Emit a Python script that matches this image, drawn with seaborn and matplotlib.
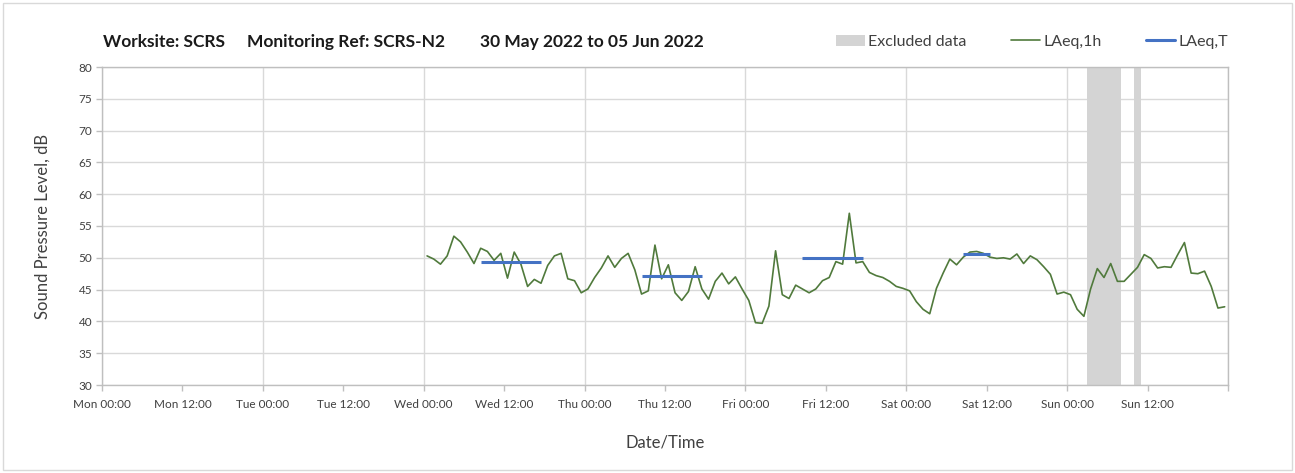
import pandas as pd
import numpy as np
import matplotlib
matplotlib.use("Agg")
import matplotlib.pyplot as plt
import matplotlib.dates as mdates
from matplotlib.patches import Patch, Rectangle
from matplotlib.lines import Line2D
import seaborn as sns

# hourly LAeq,1h values, Wed 01 Jun 2022 00:30 -> Sun 05 Jun 2022 23:30
wed = [50.3, 49.8, 49.0, 50.3, 53.4, 52.5, 50.9, 49.1, 51.5, 51.0, 49.6, 50.7,
       46.8, 50.9, 49.0, 45.5, 46.6, 46.0, 48.8, 50.3, 50.7, 46.7, 46.4, 44.5]
thu = [45.1, 46.9, 48.4, 50.3, 48.5, 49.9, 50.7, 48.1, 44.3, 44.8, 52.0, 46.7,
       48.9, 44.5, 43.3, 44.7, 48.6, 45.1, 43.5, 46.3, 47.6, 45.9, 47.0, 45.1]
fri = [43.3, 39.8, 39.7, 42.4, 51.1, 44.2, 43.6, 45.7, 45.1, 44.5, 45.1, 46.4,
       46.9, 49.4, 49.0, 57.0, 49.2, 49.4, 47.7, 47.2, 46.9, 46.3, 45.5, 45.2]
sat = [44.8, 43.1, 41.9, 41.2, 45.2, 47.6, 49.8, 48.9, 50.1, 50.9, 51.0, 50.7,
       50.1, 49.9, 50.0, 49.8, 50.6, 49.1, 50.3, 49.7, 48.6, 47.4, 44.3, 44.6]
sun = [44.2, 41.9, 40.8, 45.1, 48.3, 46.9, 49.1, 46.3, 46.3, 47.4, 48.5, 50.5,
       49.9, 48.4, 48.6, 48.5, 50.5, 52.4, 47.6, 47.5, 47.9, 45.5, 42.1, 42.3]
laeq_1h = wed + thu + fri + sat + sun
times = pd.date_range("2022-06-01 00:30", periods=len(laeq_1h), freq="h")

# LAeq,T over each assessment period
period_start = pd.to_datetime(["2022-06-01 08:30", "2022-06-02 08:30",
                               "2022-06-03 08:30", "2022-06-04 08:30"])
period_end = pd.to_datetime(["2022-06-01 17:30", "2022-06-02 17:30",
                             "2022-06-03 17:30", "2022-06-04 12:30"])
laeq_T = [49.3, 47.2, 50.0, 50.6]

# excluded data windows
excl_start = pd.to_datetime(["2022-06-05 03:00", "2022-06-05 10:00"])
excl_end = pd.to_datetime(["2022-06-05 08:00", "2022-06-05 11:00"])

week_start = pd.Timestamp("2022-05-30 00:00")
week_end = pd.Timestamp("2022-06-06 00:00")

title_parts = ["Worksite: SCRS", "Monitoring Ref: SCRS-N2", "30 May 2022 to 05 Jun 2022"]

df = pd.DataFrame({"time": times, "LAeq,1h": laeq_1h})

sns.set_theme(style="white")
plt.rcParams['font.family'] = ['Lato', 'DejaVu Sans']

green = "#507a3c"
blue = "#4472c4"
grey = "#d4d4d4"
txt = "#404040"

fig = plt.figure(figsize=(12.95, 4.73), dpi=100)
ax = fig.add_axes([102 / 1295, 1 - 385 / 473, (1228 - 102) / 1295, (385 - 67) / 473])

for s, e in zip(excl_start, excl_end):
    ax.axvspan(s, e, color=grey, lw=0, zorder=1)

sns.lineplot(data=df, x="time", y="LAeq,1h", ax=ax, color=green, lw=1.2, zorder=3)
ax.hlines(laeq_T, period_start, period_end, color=blue, lw=2.2, zorder=4)

ax.set_xlim(week_start, week_end)
ax.set_ylim(30, 80)
ax.set_yticks(np.arange(30, 81, 5))

ax.xaxis.set_major_locator(mdates.DayLocator())
ax.xaxis.set_minor_locator(mdates.HourLocator(byhour=[12]))


def fmt(x, pos=None):
    d = mdates.num2date(x).replace(tzinfo=None)
    if d >= week_end:
        return ""
    return d.strftime("%a %H:%M")


ax.xaxis.set_major_formatter(plt.FuncFormatter(fmt))
ax.xaxis.set_minor_formatter(plt.FuncFormatter(fmt))

ax.grid(True, which="major", color="#d9d9d9", lw=1)
ax.set_axisbelow(True)
for sp in ax.spines.values():
    sp.set_color("#bfbfbf")
    sp.set_linewidth(1)

ax.tick_params(axis="both", which="both", direction="out", length=4, width=1,
               color="#bfbfbf", labelsize=8.5, labelcolor=txt, pad=3,
               bottom=True, left=True)
ax.tick_params(axis="x", which="both", pad=6)

ax.set_xlabel("Date/Time", fontsize=12, color=txt, labelpad=18)
ax.set_ylabel("Sound Pressure Level, dB", fontsize=12, color=txt, labelpad=20)

for xpos, part in zip([103, 247, 480], title_parts):
    fig.text(xpos / 1295, 1 - 42 / 473, part, fontsize=12.5, fontweight="bold",
             color="#1a1a1a", va="center", ha="left")

handles = [Patch(facecolor=grey, edgecolor="none"),
           Line2D([], [], color=green, lw=1.2),
           Line2D([], [], color=blue, lw=2.2)]
fig.legend(handles, ["Excluded data", "LAeq,1h", "LAeq,T"], ncol=3, frameon=False,
           loc="center right", bbox_to_anchor=(1242 / 1295, 1 - 42 / 473),
           fontsize=11.5, handlelength=1.8, handletextpad=0.2, columnspacing=2.8,
           labelcolor=txt)

fig.patches.append(Rectangle((3 / 1295, 3 / 473), 1289 / 1295, 467 / 473,
                             transform=fig.transFigure, fill=False,
                             edgecolor="#d9d9d9", lw=1))

fig.savefig("out.png", dpi=100)
